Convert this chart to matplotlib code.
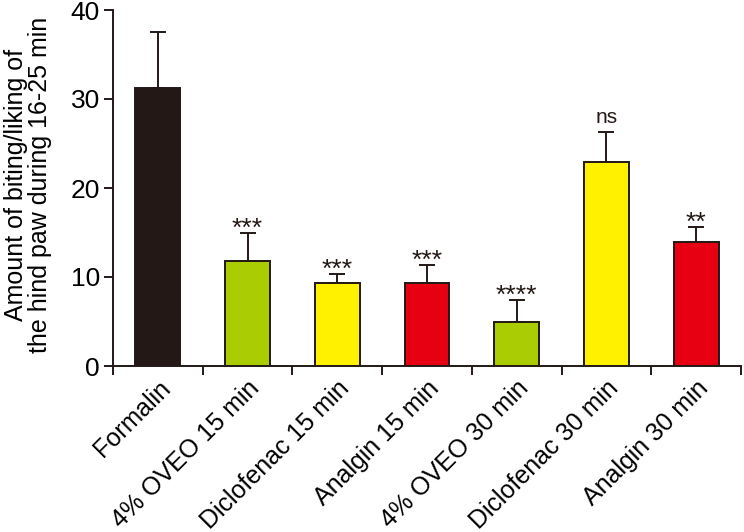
import matplotlib
matplotlib.use("Agg")
import matplotlib.pyplot as plt
import numpy as np

categories = ["Formalin", "4% OVEO 15 min", "Diclofenac 15 min", "Analgin 15 min",
              "4% OVEO 30 min", "Diclofenac 30 min", "Analgin 30 min"]
means = [31.2, 11.8, 9.35, 9.35, 5.0, 22.9, 13.95]
err_tops = [37.5, 14.95, 10.35, 11.3, 7.4, 26.3, 15.6]
signif = ["", "***", "***", "***", "****", "ns", "**"]
colors = ["#231815", "#AACC03", "#FFF100", "#E60012", "#AACC03", "#FFF100", "#E60012"]
yticks = [0, 10, 20, 30, 40]

plt.rcParams['font.family'] = ['Liberation Sans', 'DejaVu Sans']
edge = "#231815"

fig = plt.figure(figsize=(7.44, 5.32), dpi=100)
ax = fig.add_axes([113/744, 1-366/532, (741-113)/744, (366-10)/532])

x = np.arange(len(categories))
errs = np.array(err_tops) - np.array(means)
ax.bar(x, means, width=0.5, color=colors, edgecolor=edge, linewidth=1.4, zorder=3)
ax.errorbar(x, means, yerr=[np.zeros_like(errs), errs], fmt='none', ecolor=edge,
            elinewidth=1.4, capsize=6, capthick=1.4, zorder=2)
for xi, t, s in zip(x, err_tops, signif):
    if s == "ns":
        ax.text(xi, t + 1.0, s, ha='center', va='baseline', fontsize=15, color=edge)
    elif s:
        ax.text(xi, t - 0.3, s, ha='center', va='baseline', fontsize=19, color=edge)

ax.set_xlim(-0.5, len(categories) - 0.5)
ax.set_ylim(0, 40)
ax.set_yticks(yticks)
ax.set_yticklabels([str(v) for v in yticks], fontsize=19)
ax.set_xticks(x)
ax.set_xticklabels(categories, rotation=45, ha='right', rotation_mode='anchor', fontsize=18)
ax.set_xticks(np.arange(-0.5, len(categories)), minor=True)
ax.tick_params(axis='x', which='major', length=0, pad=7)
ax.tick_params(axis='x', which='minor', length=6.5, width=1.4, color=edge, direction='out')
ax.tick_params(axis='y', length=6.5, width=1.4, color=edge, direction='out', pad=3)
for sp in ['top', 'right']:
    ax.spines[sp].set_visible(False)
for sp in ['left', 'bottom']:
    ax.spines[sp].set_linewidth(1.4)
    ax.spines[sp].set_color(edge)
ax.set_ylabel("Amount of biting/liking of\nthe hind paw during 16-25 min", fontsize=18,
              linespacing=1.0)
ax.yaxis.set_label_coords(-0.097, 0.51)

fig.savefig("out.png", dpi=100)
